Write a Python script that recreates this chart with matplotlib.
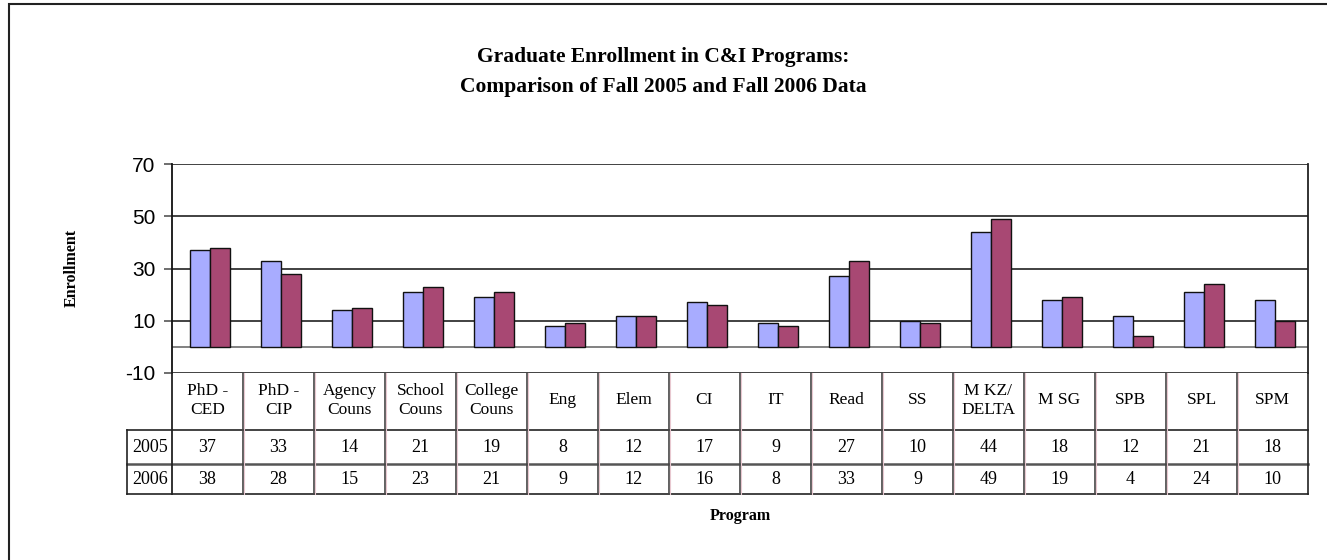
import matplotlib
matplotlib.use("Agg")
import matplotlib.pyplot as plt
import numpy as np
from matplotlib.patches import Rectangle
from matplotlib.lines import Line2D

categories = ["PhD -\nCED", "PhD -\nCIP", "Agency\nCouns", "School\nCouns", "College\nCouns",
              "Eng", "Elem", "CI", "IT", "Read", "SS", "M KZ/\nDELTA", "M SG", "SPB", "SPL", "SPM"]
fall_2005 = [37, 33, 14, 21, 19, 8, 12, 17, 9, 27, 10, 44, 18, 12, 21, 18]
fall_2006 = [38, 28, 15, 23, 21, 9, 12, 16, 8, 33, 9, 49, 19, 4, 24, 10]
series_names = ["2005", "2006"]
yticks = [-10, 10, 30, 50, 70]

W, H = 1327, 560
fig = plt.figure(figsize=(W / 100, H / 100), dpi=100)
fig.patch.set_facecolor("white")

def fx(px):
    return px / W

def fy(py):
    return 1 - py / H

# outer border (extends beyond right/bottom edge like the reference crop)
fig.add_artist(Rectangle((fx(9), fy(575)), fx(1340 - 9), fy(4) - fy(575),
                         transform=fig.transFigure, fill=False, edgecolor="#222222", lw=1.5))

serif = "Liberation Serif"
sans = "Liberation Sans"

# plot area
x_left, x_right = 172, 1308
y_top, y_bot = 164, 373
ax = fig.add_axes([fx(x_left), fy(y_bot), fx(x_right) - fx(x_left), fy(y_top) - fy(y_bot)])
n = len(categories)
x = np.arange(n) + 0.5
bw = 0.28
c05 = "#A8ACFF"
c06 = "#A84873"
ax.bar(x - bw / 2 + 0.04, fall_2005, width=bw, color=c05, edgecolor="#111111", lw=1.0, zorder=3)
ax.bar(x + bw / 2 + 0.04, fall_2006, width=bw, color=c06, edgecolor="#111111", lw=1.0, zorder=3)
ax.set_xlim(0, n)
ax.set_ylim(-10, 70)
ax.set_yticks(yticks)
ax.set_yticklabels([str(t) for t in yticks], fontfamily=sans, fontsize=15)
ax.set_xticks([])
for yv in yticks:
    ax.axhline(yv, color="#333333", lw=1.3, zorder=1)
ax.axhline(0, color="#777777", lw=1.3, zorder=2)
for s in ["top", "bottom"]:
    ax.spines[s].set_visible(False)
ax.spines["left"].set_color("#111111")
ax.spines["left"].set_linewidth(1.3)
ax.spines["right"].set_color("#222222")
ax.spines["right"].set_linewidth(1.3)
ax.tick_params(axis="y", length=6, width=1.2, color="#555555", pad=6)

# data table
row_header_bot, row1_bot, row2_bot = 430, 464, 494
leg_left = 127
tab = fig.add_axes([fx(leg_left), fy(row2_bot), fx(x_right) - fx(leg_left), fy(y_bot) - fy(row2_bot)])
tab.set_axis_off()
leg_w = (x_left - leg_left) / ((x_right - x_left) / n)
tab.set_xlim(-leg_w, n)
tab.set_ylim(row2_bot, y_bot)  # pixel-row scale, inverted
lc = "#222222"
def hline(y, x0, x1, color=lc, lw=1.2):
    tab.add_line(Line2D([x0, x1], [y, y], color=color, lw=lw, clip_on=False))
def vline(xv, y0, y1, color=lc, lw=1.2):
    tab.add_line(Line2D([xv, xv], [y0, y1], color=color, lw=lw, clip_on=False))

hline(row_header_bot, -leg_w, n)
hline(row1_bot, -leg_w, n, color="#555555", lw=1.8)
hline(row2_bot, -leg_w, n)
vline(-leg_w, row_header_bot, row2_bot)
vline(0, y_bot, row2_bot, lw=1.3)
vline(n, y_bot, row2_bot)
for i in range(1, n):
    vline(i, y_bot, row2_bot, color="#444444", lw=1.2)
    vline(i + 0.02, y_bot, row2_bot, color="#E8C8D0", lw=0.8)

for i, lab in enumerate(categories):
    tab.text(i + 0.5, (y_bot + row_header_bot) / 2 - 1, lab, ha="center", va="center",
             fontfamily=serif, fontsize=12.5, linespacing=1.3)
    tab.text(i + 0.5, (row_header_bot + row1_bot) / 2, str(fall_2005[i]), ha="center",
             va="center", fontfamily=serif, fontsize=13)
    tab.text(i + 0.5, (row1_bot + row2_bot) / 2, str(fall_2006[i]), ha="center",
             va="center", fontfamily=serif, fontsize=13)
for name, (a, b) in zip(series_names, [(row_header_bot, row1_bot), (row1_bot, row2_bot)]):
    tab.text(-leg_w + 0.08, (a + b) / 2, name, ha="left", va="center",
             fontfamily=serif, fontsize=13)

# titles
fig.text(fx(663), fy(57), "Graduate Enrollment in C&I Programs:", ha="center", va="center",
         fontfamily=serif, fontweight="bold", fontsize=15.5)
fig.text(fx(663), fy(87), "Comparison of Fall 2005 and Fall 2006 Data", ha="center", va="center",
         fontfamily=serif, fontweight="bold", fontsize=15.5)
fig.text(fx(72), fy(268), "Enrollment", ha="center", va="center", rotation=90,
         fontfamily=serif, fontweight="bold", fontsize=11.5)
fig.text(fx(740), fy(516), "Program", ha="center", va="center",
         fontfamily=serif, fontweight="bold", fontsize=11.5)

fig.savefig("out.png", dpi=100)
